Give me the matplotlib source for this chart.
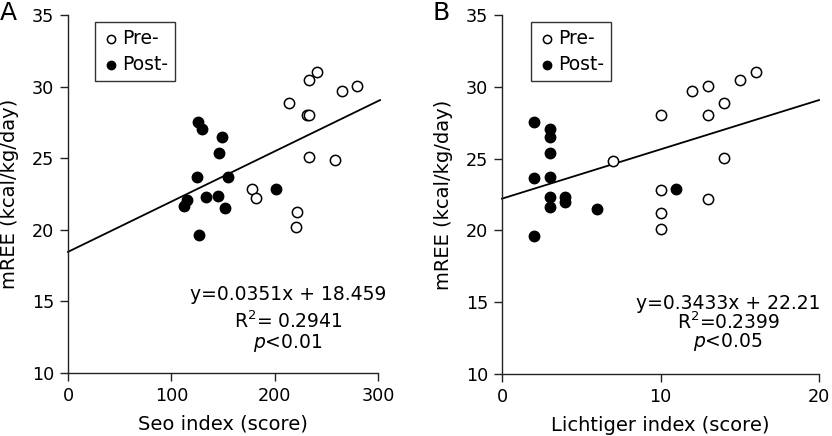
import matplotlib
matplotlib.use("Agg")
import matplotlib.pyplot as plt
import numpy as np

plt.rcParams['font.family'] = ['DejaVu Sans']

# Panel A: Seo index
seo_pre_x = [240.6, 233.5, 264.8, 279.4, 214.2, 231.5, 233.5, 233.2, 258.4, 177.8, 181.9, 221.3, 220.3]
seo_pre_y = [31.0, 30.46, 29.71, 30.02, 28.88, 28.04, 28.04, 25.06, 24.87, 22.85, 22.2, 21.26, 20.17]
seo_post_x = [126.1, 130.0, 148.7, 146.5, 124.5, 154.5, 201.0, 133.5, 144.9, 114.8, 112.6, 151.6, 127.1]
seo_post_y = [27.55, 27.04, 26.5, 25.34, 23.69, 23.67, 22.87, 22.29, 22.34, 22.08, 21.66, 21.52, 19.66]

# Panel B: Lichtiger index
li_pre_x = [16, 15, 12, 13, 14, 10, 13, 7, 14, 10, 13, 10, 10]
li_pre_y = [31.05, 30.47, 29.73, 30.03, 28.89, 28.04, 28.04, 24.85, 25.04, 22.81, 22.17, 21.23, 20.12]
li_post_x = [2, 3, 3, 3, 2, 3, 11, 4, 4, 3, 3, 6, 2]
li_post_y = [27.55, 27.06, 26.53, 25.37, 23.65, 23.7, 22.86, 22.3, 22.0, 22.3, 21.6, 21.49, 19.61]

fit_a = (0.0351, 18.459)
fit_b = (0.3433, 22.21)

W, H = 832, 436
fig = plt.figure(figsize=(W / 100, H / 100), dpi=100)
axA = fig.add_axes([68 / W, (H - 373) / H, 310 / W, 358 / H])
axB = fig.add_axes([502 / W, (H - 374) / H, 317 / W, 359 / H])

FS_TICK = 12.7
FS_LAB = 14
FS_ANN = 13.5

def style(ax, xmax, xticks, xlabel):
    ax.set_xlim(0, xmax)
    ax.set_ylim(10, 35)
    ax.set_xticks(xticks)
    ax.set_yticks([10, 15, 20, 25, 30, 35])
    for s in ['top', 'right']:
        ax.spines[s].set_visible(False)
    for s in ['left', 'bottom']:
        ax.spines[s].set_linewidth(1.0)
        ax.spines[s].set_color('#222222')
    ax.tick_params(direction='out', length=6, width=1.0, labelsize=FS_TICK, color='#222222', pad=4)
    ax.set_xlabel(xlabel, fontsize=FS_LAB, labelpad=7)
    ax.set_ylabel('mREE (kcal/kg/day)', fontsize=FS_LAB, labelpad=9)
    ax.patch.set_alpha(0)

def draw(ax, px, py, qx, qy, fit, xend):
    ax.scatter(px, py, s=55, facecolors='white', edgecolors='black', linewidths=1.1, zorder=3, label='Pre-')
    ax.scatter(qx, qy, s=55, facecolors='black', edgecolors='black', linewidths=1.1, zorder=3, label='Post-')
    xs = np.array([0, xend])
    ax.plot(xs, fit[0] * xs + fit[1], color='black', lw=1.3, zorder=2, clip_on=False)

draw(axA, seo_pre_x, seo_pre_y, seo_post_x, seo_post_y, fit_a, 302)
draw(axB, li_pre_x, li_pre_y, li_post_x, li_post_y, fit_b, 20)
style(axA, 300, [0, 100, 200, 300], 'Seo index (score)')
style(axB, 20, [0, 10, 20], 'Lichtiger index (score)')

for ax, anchor in [(axA, (27 / 310, 351 / 358)), (axB, (29 / 317, 352 / 359))]:
    leg = ax.legend(loc='upper left', bbox_to_anchor=anchor, borderaxespad=0, fontsize=13.5,
                    frameon=True, fancybox=False, edgecolor='black', handletextpad=0.1,
                    handlelength=1.0, borderpad=0.35, labelspacing=0.4, markerscale=0.8)
    leg.get_frame().set_linewidth(1.0)

axA.text(213, 15.45, 'y=0.0351x + 18.459', ha='center', va='center', fontsize=FS_ANN)
axA.text(213, 13.63, 'R$^2$= 0.2941', ha='center', va='center', fontsize=FS_ANN)
axA.text(213, 12.1, '$p$<0.01', ha='center', va='center', fontsize=FS_ANN)

axB.text(14.26, 14.94, 'y=0.3433x + 22.21', ha='center', va='center', fontsize=FS_ANN)
axB.text(14.26, 13.62, 'R$^2$=0.2399', ha='center', va='center', fontsize=FS_ANN)
axB.text(14.26, 12.23, '$p$<0.05', ha='center', va='center', fontsize=FS_ANN)

fig.text(0 / W, 1 - 13 / H, 'A', fontsize=18, va='center', ha='left')
fig.text(432 / W, 1 - 13 / H, 'B', fontsize=18, va='center', ha='left')

fig.savefig('out.png', dpi=100)
